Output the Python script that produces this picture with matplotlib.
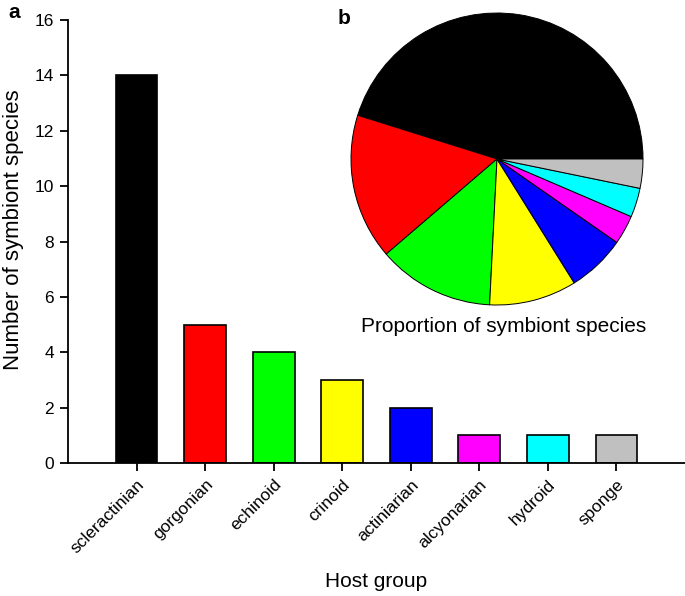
import numpy as np
import matplotlib.pyplot as plt

hosts = ["scleractinian", "gorgonian", "echinoid", "crinoid", "actiniarian",
         "alcyonarian", "hydroid", "sponge"]
species = [14, 5, 4, 3, 2, 1, 1, 1]
colors = ["#000000", "#ff0000", "#00ff00", "#ffff00", "#0000ff",
          "#ff00ff", "#00ffff", "#c0c0c0"]

plt.rcParams["font.family"] = ["Liberation Sans", "DejaVu Sans"]

fig = plt.figure(figsize=(6.85, 5.96), dpi=100)

# bar chart (a)
ax = fig.add_axes([68 / 685, 1 - 463 / 596, 1 - 68 / 685, (463 - 20) / 596])
x = np.arange(len(hosts))
ax.bar(x, species, width=0.61, color=colors, edgecolor="black", linewidth=1.2)
ax.set_xlim(-1, 8)
ax.set_ylim(0, 16)
ax.set_yticks(range(0, 17, 2))
ax.set_xticks(x)
ax.set_xticklabels(hosts, rotation=45, ha="right", rotation_mode="anchor", fontsize=12.5)
ax.tick_params(axis="y", labelsize=12.5, length=6, width=1.3, pad=4)
ax.tick_params(axis="x", length=6, width=1.3, pad=4)
for s in ["top", "right"]:
    ax.spines[s].set_visible(False)
for s in ["left", "bottom"]:
    ax.spines[s].set_linewidth(1.3)
ax.set_ylabel("Number of symbiont species", fontsize=16)
ax.yaxis.set_label_coords((24 - 68) / 617, (463 - 230) / 443)
ax.set_xlabel("Host group", fontsize=15)
ax.xaxis.set_label_coords(0.5, (463 - 572) / 443)

fig.text(14 / 685, 1 - 12 / 596, "a", fontsize=15, fontweight="bold", va="center", ha="center")
fig.text(344 / 685, 1 - 18 / 596, "b", fontsize=15, fontweight="bold", va="center", ha="center")

# pie chart (b)
r = 146
cx, cy = 497, 159
pax = fig.add_axes([(cx - r) / 685, (596 - cy - r) / 596, 2 * r / 685, 2 * r / 596])
pax.pie(species, colors=colors, startangle=0, counterclock=True,
        wedgeprops=dict(edgecolor="black", linewidth=0.7))
pax.set_xlim(-1, 1)
pax.set_ylim(-1, 1)
pax.set_aspect("equal")
pax.axis("off")

fig.text(504 / 685, 1 - 327 / 596, "Proportion of symbiont species", fontsize=15,
         ha="center", va="center")

fig.savefig("out.png", dpi=100)
